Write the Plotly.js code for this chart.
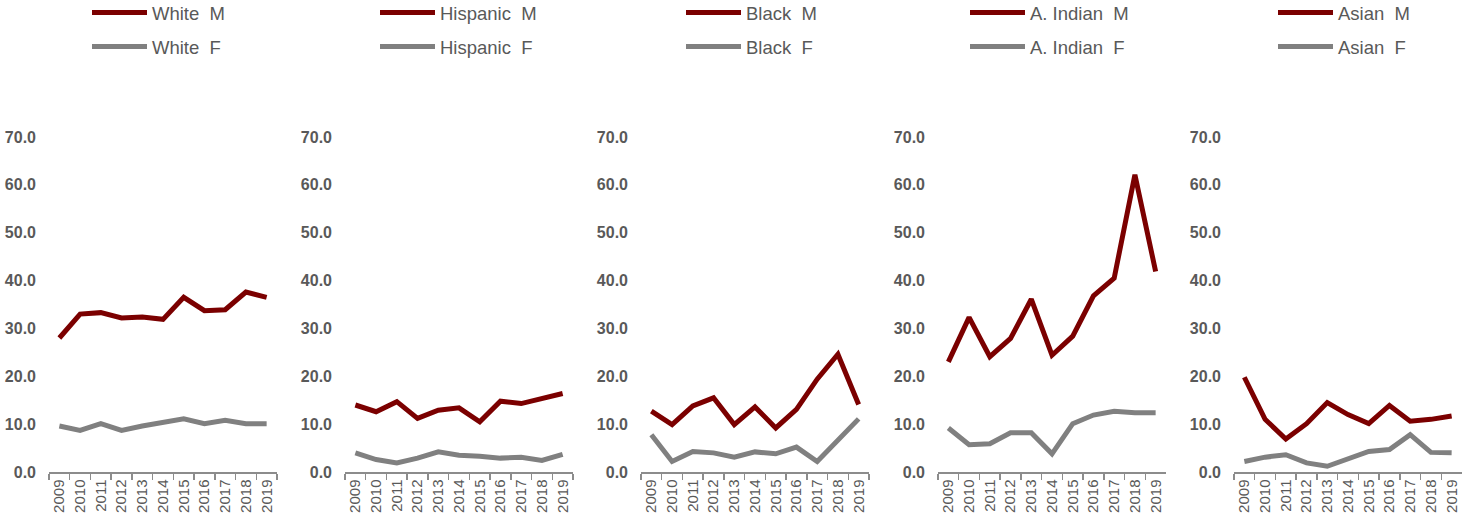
<!DOCTYPE html>
<html><head><meta charset="utf-8">
<script src="https://cdn.plot.ly/plotly-3.0.1.min.js"></script>
<style>html,body{margin:0;padding:0;background:#fff}</style>
</head><body>
<div id="chart" style="width:1463px;height:523px"></div>
<script>
const years = ["2009","2010","2011","2012","2013","2014","2015","2016","2017","2018","2019"];
const groups = ["White", "Hispanic", "Black", "A. Indian", "Asian"];
const whiteM    = [28.0, 33.0, 33.3, 32.2, 32.4, 31.9, 36.5, 33.7, 33.9, 37.6, 36.5];
const whiteF    = [9.6, 8.7, 10.1, 8.7, 9.6, 10.4, 11.1, 10.1, 10.8, 10.1, 10.1];
const hispanicM = [14.0, 12.6, 14.7, 11.2, 12.9, 13.4, 10.5, 14.8, 14.3, 15.3, 16.4];
const hispanicF = [4.0, 2.6, 1.9, 2.9, 4.2, 3.5, 3.3, 2.9, 3.1, 2.4, 3.7];
const blackM    = [12.7, 9.9, 13.8, 15.5, 9.9, 13.6, 9.2, 13.1, 19.4, 24.6, 14.1];
const blackF    = [7.8, 2.2, 4.3, 4.0, 3.1, 4.2, 3.8, 5.2, 2.2, 6.6, 11.1];
const indianM   = [23.0, 32.3, 24.1, 27.9, 36.1, 24.4, 28.4, 36.8, 40.5, 62.1, 41.9];
const indianF   = [9.2, 5.7, 5.9, 8.2, 8.2, 3.8, 10.1, 11.9, 12.7, 12.4, 12.4];
const asianM    = [19.8, 11.0, 6.9, 10.1, 14.5, 12.0, 10.1, 13.9, 10.6, 11.0, 11.7];
const asianF    = [2.2, 3.1, 3.6, 1.9, 1.2, 2.7, 4.3, 4.7, 7.8, 4.1, 4.0];
const yTicks = [0, 10, 20, 30, 40, 50, 60, 70];

const seriesM = [whiteM, hispanicM, blackM, indianM, asianM];
const seriesF = [whiteF, hispanicF, blackF, indianF, asianF];

const W = 1463, H = 523;
const panelLeft = [49, 345, 641, 938, 1234];
const panelWidth = 228;
const legendLeft = [87, 375, 681, 965, 1273];
const FONT = "Arial, 'Liberation Sans', sans-serif";
const TXT = "#595959";

const traces = [];
const layout = {
  width: W, height: H,
  margin: {l: 0, r: 0, t: 0, b: 0, autoexpand: false},
  paper_bgcolor: "#fff", plot_bgcolor: "#fff",
  font: {family: FONT, color: TXT},
  showlegend: true
};
groups.forEach((g, i) => {
  const n = i === 0 ? "" : String(i + 1);
  const lg = i === 0 ? "legend" : "legend" + (i + 1);
  traces.push({
    x: years, y: seriesM[i], type: "scatter", mode: "lines",
    name: g + "\u00a0\u00a0M", line: {color: "#7b0000", width: 5},
    xaxis: "x" + n, yaxis: "y" + n, legend: lg, legendgroup: g + "M"
  });
  traces.push({
    x: years, y: seriesF[i], type: "scatter", mode: "lines",
    name: g + "\u00a0\u00a0F", line: {color: "#808080", width: 5},
    xaxis: "x" + n, yaxis: "y" + n, legend: lg, legendgroup: g + "F"
  });
  const x0 = panelLeft[i] / W, x1 = (panelLeft[i] + panelWidth) / W;
  layout["xaxis" + n] = {
    domain: [x0, Math.min(x1, 1)], anchor: "y" + n, type: "category",
    range: [-0.5, 10.5],
    tickangle: -90, showline: true, linecolor: "#8c8c8c", linewidth: 1.5,
    ticks: "outside", tickson: "boundaries", ticklen: 6, tickcolor: "#8c8c8c", tickwidth: 1.5,
    showgrid: false, zeroline: false, fixedrange: true,
    tickfont: {family: FONT, size: 15, color: TXT}
  };
  layout["yaxis" + n] = {
    domain: [(H - 472) / H, (H - 137) / H], anchor: "x" + n,
    range: [0, 70], tickvals: yTicks, tickformat: ".1f",
    showline: false, showgrid: false, zeroline: false, ticks: "",
    ticklabelstandoff: 12, fixedrange: true,
    tickfont: {family: FONT, size: 16, color: TXT, weight: "bold"}
  };
  layout[lg] = {
    x: legendLeft[i] / W, xanchor: "left", y: 1 + 6 / H, yanchor: "top",
    bgcolor: "rgba(0,0,0,0)", traceorder: "grouped", tracegroupgap: 7,
    itemwidth: 55, font: {family: FONT, size: 18.5, color: TXT}
  };
});
Plotly.newPlot("chart", traces, layout, {displayModeBar: false, staticPlot: true});
</script>
</body></html>
